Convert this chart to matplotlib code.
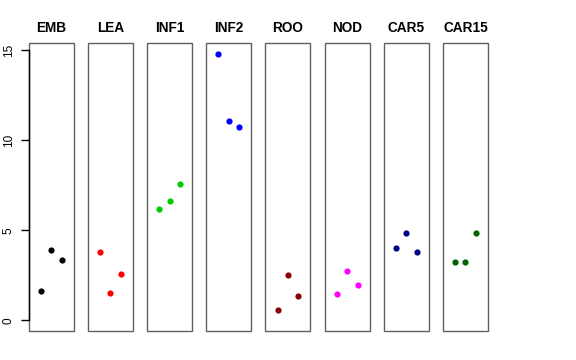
import matplotlib.pyplot as plt
from matplotlib.patches import Rectangle

plt.rcParams['font.family'] = ['Liberation Sans', 'DejaVu Sans']

# tissues and their colours
tissues = ["EMB", "LEA", "INF1", "INF2", "ROO", "NOD", "CAR5", "CAR15"]
colores = ["black", "red", "#00CD00", "blue", "#8B0000", "magenta", "#00008B", "#006400"]

# three replicates per tissue
rep = [1, 2, 3]
valores = [
    [1.63, 3.89, 3.33],
    [3.78, 1.52, 2.59],
    [6.18, 6.64, 7.56],
    [14.81, 11.07, 10.72],
    [0.54, 2.50, 1.35],
    [1.48, 2.76, 1.96],
    [4.03, 4.83, 3.79],
    [3.24, 3.22, 4.85],
]
yticks = [0, 5, 10, 15]

fig = plt.figure(figsize=(5.76, 3.6), dpi=100)
W, H = 576.0, 360.0

for i in range(len(tissues)):
    left = 28.7 + i * 59.18
    ax = fig.add_axes([left / W, 29 / H, 45 / W, 288 / H])
    ax.scatter(rep, valores[i], s=20, color=colores[i], zorder=3, linewidths=0)
    ax.set_xlim(-0.16, 4.16)
    ax.set_ylim(-0.6, 15.4)
    ax.set_xticks([])
    for s in ax.spines.values():
        s.set_visible(False)
    ax.add_patch(Rectangle((0, 0), 1, 1, transform=ax.transAxes, fill=False,
                           edgecolor="#606060", linewidth=1.0, clip_on=False))
    ax.set_title(tissues[i], fontsize=9.8, fontweight="bold", pad=8)
    if i == 0:
        ax.spines['left'].set_visible(True)
        ax.spines['left'].set_bounds(0, 15)
        ax.spines['left'].set_color("black")
        ax.spines['left'].set_linewidth(1.0)
        ax.set_yticks(yticks)
        ax.set_yticklabels([str(t) for t in yticks], rotation=90, va="center", fontsize=8.5)
        ax.tick_params(axis='y', length=6, width=1.0, pad=4)
    else:
        ax.set_yticks([])

plt.savefig("out.png", dpi=100)
